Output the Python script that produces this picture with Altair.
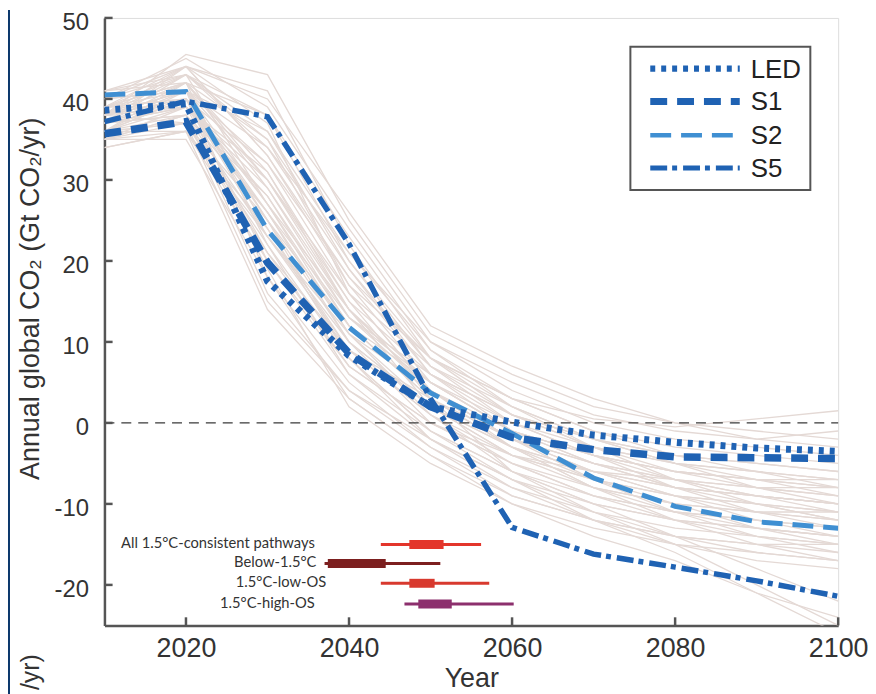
import altair as alt
import pandas as pd

# ---------------- data ----------------
years = [2010, 2020, 2030, 2040, 2050, 2060, 2070, 2080, 2090, 2100]

scenario_names = ["S2", "S5", "S1", "LED"]
scenario_values = {
    "LED": [38.6, 39.4, 17.5, 8.3, 2.0, 0.1, -1.5, -2.4, -3.1, -3.5],
    "S1": [35.7, 37.2, 19.8, 8.6, 2.0, -1.8, -3.3, -4.2, -4.3, -4.4],
    "S2": [40.5, 40.9, 23.8, 11.8, 3.7, -1.3, -6.8, -10.3, -12.2, -13.0],
    "S5": [37.2, 39.7, 37.8, 22.1, 3.0, -12.9, -16.2, -17.8, -19.5, -21.4],
}
legend_order = ["LED", "S1", "S2", "S5"]

gray_paths = [
    [38, 45.5, 43, 25, 11, 6, 2, 0, -1, -2],
    [39, 44, 41, 22, 8, 3, 0.5, -0.5, 0.5, 1.5],
    [37, 42, 38, 20, 7, 1, -2, -4, -5, -6],
    [40, 43, 35, 17, 5, -1, -4, -6, -7, -8],
    [36, 40, 32, 16, 4, -2, -5, -7, -8, -9],
    [38, 41, 30, 14, 2, -4, -7, -9, -10, -11],
    [35, 38, 28, 12, 3, -3, -6, -8, -9, -10],
    [41, 44, 33, 18, 6, -1, -5, -8, -10, -12],
    [37, 39, 26, 10, 0, -5, -8, -10, -11, -12],
    [34, 36, 24, 9, 1, -4, -7, -9, -10, -11],
    [39, 42, 29, 13, 4, -2, -6, -9, -12, -14],
    [36, 37, 22, 8, -1, -6, -9, -11, -12, -13],
    [38, 40, 20, 6, -2, -7, -10, -12, -13, -14],
    [35, 35, 18, 5, -3, -8, -11, -13, -14, -15],
    [40, 41, 27, 11, 2, -3, -7, -10, -13, -15],
    [37, 38, 16, 4, -3, -9, -12, -14, -15, -16],
    [36, 36, 14, 3, -4, -10, -13, -15, -16, -17],
    [39, 40, 23, 9, 1, -5, -9, -11, -13, -14],
    [38, 39, 31, 15, 3, -6, -10, -12, -13, -14],
    [37, 43, 36, 19, 6, 1, -3, -6, -7, -7],
    [40, 45, 39, 24, 10, 4, 0, -2, -3, -4],
    [36, 41, 34, 21, 9, 2, -3, -5, -6, -7],
    [38, 44, 37, 16, 4, -2, -6, -9, -11, -12],
    [35, 37, 25, 12, 5, 0, -3, -5, -6, -7],
    [39, 39, 21, 7, 0, -4, -6, -8, -9, -10],
    [37, 38, 19, 2, -5, -10, -14, -17, -21, -24],
    [38, 40, 24, 8, -2, -8, -12, -16, -21, -26],
    [36, 39, 28, 13, 5, -1, -4, -7, -9, -11],
    [41, 42, 30, 16, 7, 2, -2, -5, -7, -8],
    [34, 36, 20, 7, 0, -5, -9, -12, -14, -15],
    [39, 43, 34, 19, 7, 0, -4, -8, -11, -13],
    [37, 41, 32, 18, 8, 3, -1, -4, -6, -8],
    [36, 38, 26, 11, 1, -6, -11, -14, -16, -17],
    [38, 42, 22, 6, -1, -6, -10, -14, -18, -22],
    [40, 44, 40, 26, 12, 7, 3, 0, -2, -3],
    [35, 39, 30, 15, 6, 0, -4, -6, -8, -9],
    [38, 41, 18, 3, -4, -9, -12, -14, -15, -15],
    [37, 40, 27, 12, 3, -3, -8, -11, -12, -13],
    [39, 42, 35, 20, 8, 2, -2, -5, -8, -10],
    [36, 37, 15, 4, -2, -7, -11, -15, -20, -25],
    [38, 43, 38, 23, 9, 3, -1, -3, -4, -5],
    [40, 41, 25, 10, 2, -4, -8, -10, -11, -11],
    [35, 36, 23, 10, 2, -3, -6, -7, -8, -8],
    [37, 39, 29, 14, 4, -2, -7, -11, -14, -16],
    [39, 40, 26, 13, 6, 1, -2, -4, -5, -6],
    [36, 42, 31, 14, 5, -1, -5, -8, -9, -10],
    [38, 37, 21, 9, 3, -2, -5, -7, -9, -10],
    [41, 43, 27, 14, 4, -3, -8, -12, -15, -17],
    [37, 44, 33, 17, 8, 1, -3, -7, -10, -12],
    [35, 38, 23, 11, 4, -1, -4, -6, -7, -9],
    [39, 41, 36, 21, 10, 5, 1, -1, -2, -1],
    [36, 40, 25, 8, -1, -7, -12, -15, -17, -18],
]

ranges_cat = ["All 1.5°C-consistent pathways", "Below-1.5°C", "1.5°C-low-OS", "1.5°C-high-OS"]
ranges_thin_lo = [2043.9, 2037.0, 2043.9, 2046.8]
ranges_thin_hi = [2056.2, 2051.2, 2057.2, 2060.2]
ranges_thick_lo = [2047.4, 2037.4, 2047.4, 2048.5]
ranges_thick_hi = [2051.6, 2044.5, 2050.5, 2052.6]

# ---------------- styles / layout ----------------
range_colors = ["#e3352b", "#7c1f1f", "#d8392e", "#8c2f6d"]
range_rows = [-15.0, -17.35, -19.8, -22.35]
range_label_end = [2035.8, 2036.0, 2037.2, 2035.8]

dark_blue = "#1f62b3"
light_blue = "#3f8fd2"
styles = {
    "LED": dict(color=dark_blue, strokeWidth=7, strokeDash=[5, 6]),
    "S1": dict(color=dark_blue, strokeWidth=7.5, strokeDash=[17, 10]),
    "S2": dict(color=light_blue, strokeWidth=5, strokeDash=[21, 10]),
    "S5": dict(color=dark_blue, strokeWidth=5.5, strokeDash=[17, 5, 5, 6]),
}

W, H = 738, 611
xscale = alt.Scale(domain=[2010, 2100], nice=False, zero=False)
yscale = alt.Scale(domain=[-25, 50], nice=False, zero=False)
FONT = "Liberation Sans"
AXC = "#555555"
TXT = "#333333"

xaxis = alt.Axis(
    values=[2020, 2040, 2060, 2080, 2100], format="d", grid=False, ticks=False, tickSize=0,
    labelFontSize=27, labelFont=FONT, labelColor=TXT, labelPadding=10, labelFlush=False,
    domainColor=AXC, domainWidth=2.5,
    title="Year", titleFont=FONT, titleFontSize=27, titleFontWeight="normal", titleColor=TXT,
    titleY=61, titleBaseline="alphabetic",
)
yaxis = alt.Axis(
    values=[-20, -10, 0, 10, 20, 30, 40, 50], grid=False, ticks=False, tickSize=0,
    labelExpr="'' + datum.value",
    labelFontSize=24, labelFont=FONT, labelColor=TXT, labelPadding=16, labelOffset=5,
    domainColor=AXC, domainWidth=2.5,
    title="Annual global CO₂ (Gt CO₂/yr)", titleFont=FONT, titleFontSize=27,
    titleFontWeight="normal", titleColor=TXT, titleX=-66, titleY=282, titleAngle=270,
    titleAlign="center", titleBaseline="alphabetic",
)


def X(field):
    return alt.X(field, scale=xscale, axis=xaxis, title="Year")


def Y(field):
    return alt.Y(field, scale=yscale, axis=yaxis, title="Annual global CO₂ (Gt CO₂/yr)")


# ---------------- build data frames ----------------
gray_rows = []
for i, p in enumerate(gray_paths):
    for yr, v in zip(years, p):
        gray_rows.append({"path": i, "year": yr, "value": v})
gray_df = pd.DataFrame(gray_rows)

one = pd.DataFrame({"a": [0]})

layers = []
layers.append(
    alt.Chart(gray_df).mark_line(color="#e4d9d5", strokeWidth=1.3, clip=True).encode(
        x=X("year:Q"), y=Y("value:Q"), detail="path:N",
    )
)

zero_df = pd.DataFrame({"year": [years[0]], "year2": [years[-1]], "value": [0]})
layers.append(
    alt.Chart(zero_df).mark_rule(color="#3a3a3a", strokeWidth=1.3, strokeDash=[10, 7]).encode(
        x=X("year:Q"), x2="year2:Q", y=Y("value:Q"),
    )
)

for name in scenario_names:
    sdf = pd.DataFrame({"year": years, "value": scenario_values[name]})
    st = styles[name]
    layers.append(
        alt.Chart(sdf).mark_line(color=st["color"], strokeWidth=st["strokeWidth"],
                                 strokeDash=st["strokeDash"], strokeCap="butt", clip=True).encode(
            x=X("year:Q"), y=Y("value:Q"),
        )
    )

# inward ticks
ytick_df = pd.DataFrame({"year": 2010, "year2": 2011, "value": [-20, -10, 0, 10, 20, 30, 40, 50]})
layers.append(
    alt.Chart(ytick_df).mark_rule(color=AXC, strokeWidth=2.5).encode(
        x=X("year:Q"), x2="year2:Q", y=Y("value:Q"),
    )
)
xtick_df = pd.DataFrame({"year": [2020, 2040, 2060, 2080, 2100], "value": -25, "value2": -24})
layers.append(
    alt.Chart(xtick_df).mark_rule(color=AXC, strokeWidth=2.5).encode(
        x=X("year:Q"), y=Y("value:Q"), y2="value2:Q",
    )
)

# range bars
rng_df = pd.DataFrame({
    "cat": ranges_cat, "lo": ranges_thin_lo, "hi": ranges_thin_hi,
    "tlo": ranges_thick_lo, "thi": ranges_thick_hi,
    "row": range_rows, "col": range_colors, "lab": range_label_end,
})
layers.append(
    alt.Chart(rng_df).mark_rule(strokeWidth=3).encode(
        x=X("lo:Q"), x2="hi:Q", y=Y("row:Q"),
        color=alt.Color("col:N", scale=None),
    )
)
layers.append(
    alt.Chart(rng_df).mark_rule(strokeWidth=9).encode(
        x=X("tlo:Q"), x2="thi:Q", y=Y("row:Q"),
        color=alt.Color("col:N", scale=None),
    )
)
layers.append(
    alt.Chart(rng_df).mark_text(align="right", baseline="middle", font="Lato", fontSize=14.8,
                                color=TXT).encode(
        x=X("lab:Q"), y=Y("row:Q"), text="cat:N",
    )
)

# legend (manual, boxed)
layers.append(
    alt.Chart(one).mark_rect(fill="white", stroke=AXC, strokeWidth=2).encode(
        x=alt.value(529), x2=alt.value(710), y=alt.value(29), y2=alt.value(173)
    )
)
leg_y = [51, 84, 118, 151]
for name, yy in zip(legend_order, leg_y):
    st = styles[name]
    layers.append(
        alt.Chart(one).mark_rule(color=st["color"], strokeWidth=st["strokeWidth"] - 0.5,
                                 strokeDash=st["strokeDash"], strokeCap="butt").encode(
            x=alt.value(549), x2=alt.value(639), y=alt.value(yy)
        )
    )
    layers.append(
        alt.Chart(pd.DataFrame({"t": [name]})).mark_text(
            align="left", baseline="middle", font=FONT, fontSize=26, color="#222222").encode(
            x=alt.value(650), y=alt.value(yy + 1), text="t:N"
        )
    )

# frame decorations of the source page (left strip and cut-off label)
layers.append(
    alt.Chart(one).mark_rect(color="#0c386c").encode(
        x=alt.value(-97), x2=alt.value(-95), y=alt.value(-8), y2=alt.value(690)
    )
)
layers.append(
    alt.Chart(pd.DataFrame({"t": ["/yr)"]})).mark_text(
        align="right", baseline="alphabetic", angle=270, font=FONT, fontSize=25, color=TXT).encode(
        x=alt.value(-66), y=alt.value(640), text="t:N"
    )
)

chart = alt.layer(*layers).properties(
    width=W, height=H,
    autosize=alt.AutoSizeParams(type="none"),
    padding={"left": 97, "top": 8, "right": 30, "bottom": 67},
).configure_view(stroke=None).configure(background="white")

chart.save("out.html", embed_options={"renderer": "svg", "actions": False})
